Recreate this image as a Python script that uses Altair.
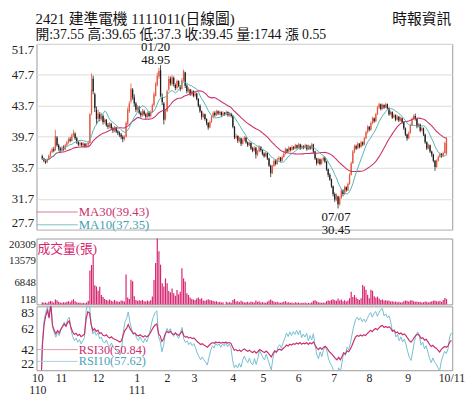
import altair as alt
import pandas as pd

# ---------------- data ----------------
opens = [37.2, 36.9, 36.6, 36.4, 36.8, 37.3, 37.7, 38.1, 38.0, 39.6, 38.6, 38.2, 37.9, 38.3,
         38.1, 38.6, 39.0, 39.4, 39.2, 39.9, 40.1, 39.5, 39.0, 38.7, 38.9, 38.6, 38.8, 38.5, 38.7, 38.9, 42.8, 47.2, 45.2, 43.2, 42.0, 42.6,
         42.0, 42.4, 41.6, 41.9, 41.2, 41.0, 41.4, 40.8, 40.5, 40.9, 40.4, 40.2, 40.0, 39.7, 39.4, 39.7, 41.4, 43.0, 44.3, 45.8, 44.8, 44.0, 43.2,
         43.5, 42.8, 42.5, 43.0, 42.6, 42.3, 42.8, 42.4, 42.9, 43.8, 45.0, 46.4, 47.5, 48.3, 44.8, 44.0, 42.0, 43.0,
         45.8, 47.2, 46.5, 47.3, 46.4, 46.0, 46.9, 46.2, 45.9, 47.0, 48.0, 46.3, 45.6, 45.8, 45.2, 45.6,
         45.0, 45.3, 44.6, 43.7, 43.0, 42.3, 42.6, 42.0, 41.5, 40.9, 41.6, 42.3, 42.8, 42.5, 43.0, 42.7, 42.9, 42.5, 42.8, 42.6, 42.9, 42.5, 42.7,
         42.4, 41.0, 39.6, 39.8, 39.2, 39.5, 38.8, 39.3, 39.6, 39.0, 38.6, 38.9, 38.2, 37.9, 38.3, 37.4, 37.8, 38.4,
         38.0, 37.5, 37.2, 37.6, 36.9, 36.0, 35.0, 35.9, 36.6, 36.2, 36.8, 37.0, 36.6, 37.1, 37.5, 38.1, 37.8, 38.3, 38.0, 38.4, 38.2,
         38.6, 38.3, 38.7, 38.2, 38.5, 38.3, 38.6, 38.1, 38.5, 38.2, 38.7, 37.8, 36.9, 36.3, 36.8, 36.2, 36.7, 37.0, 36.5, 35.5, 34.8,
         34.2, 33.3, 32.3, 31.6, 32.0, 31.0, 31.8, 32.8, 32.3, 33.2, 32.8, 33.6, 34.8, 36.3, 37.8, 38.5, 38.2, 38.8, 38.4, 39.0, 38.7,
         39.5, 40.3, 41.0, 40.6, 41.5, 42.1, 41.7, 42.6, 43.5, 43.9, 43.3, 43.8, 43.5, 43.9, 43.4, 42.6, 42.9, 42.2, 42.5, 41.9, 42.3, 41.8, 42.1,
         41.6, 40.8, 40.0, 39.5, 40.2, 41.2, 42.0, 42.4, 42.0, 41.0, 41.3, 40.5, 40.8, 40.0, 39.0, 38.2, 38.6, 37.8, 37.4, 36.6, 35.8,
         36.6, 37.1, 37.5, 37.2, 37.6, 37.55]

closes = [36.9, 36.6, 36.4, 36.8, 37.3, 37.7, 38.1, 37.9, 39.8, 38.6, 38.2, 37.9, 38.3, 38.1,
          38.6, 39.0, 39.4, 39.2, 39.9, 40.2, 39.5, 39.0, 38.7, 38.9, 38.6, 38.8, 38.5, 38.7, 38.9, 42.6, 45.8, 45.6, 43.4, 42.0, 42.7, 42.0,
          42.5, 41.6, 41.9, 41.2, 41.0, 41.4, 40.8, 40.5, 40.9, 40.4, 40.2, 40.0, 39.7, 39.4, 39.7, 41.5, 43.2, 44.0, 45.9, 44.8, 44.0, 43.2, 43.5,
          42.8, 42.5, 43.0, 42.6, 42.3, 42.8, 42.4, 42.9, 43.8, 45.2, 46.5, 47.6, 48.2, 45.0, 44.2, 41.9, 43.0, 45.6,
          47.2, 46.6, 47.4, 46.5, 46.0, 46.9, 46.3, 45.9, 47.0, 48.2, 46.3, 45.6, 45.9, 45.2, 45.6, 45.0,
          45.3, 44.6, 43.7, 43.0, 42.3, 42.6, 42.0, 41.5, 40.9, 41.6, 42.3, 42.8, 42.5, 43.0, 42.7, 42.9, 42.5, 42.8, 42.6, 42.9, 42.5, 42.7, 42.4,
          41.0, 39.6, 39.8, 39.2, 39.5, 38.8, 39.3, 39.6, 39.0, 38.6, 38.9, 38.2, 37.9, 38.3, 37.4, 37.8, 38.4, 38.0,
          37.5, 37.2, 37.6, 36.9, 36.0, 35.0, 35.9, 36.6, 36.2, 36.8, 37.0, 36.6, 37.1, 37.5, 38.1, 37.8, 38.3, 38.0, 38.4, 38.2, 38.6,
          38.3, 38.7, 38.2, 38.5, 38.3, 38.6, 38.1, 38.5, 38.2, 38.7, 37.8, 36.9, 36.3, 36.8, 36.2, 36.7, 37.0, 36.5, 35.5, 34.8, 34.2,
          33.3, 32.3, 31.6, 32.2, 31.0, 31.8, 32.8, 32.3, 33.2, 32.8, 33.6, 34.8, 36.3, 37.8, 38.5, 38.2, 38.8, 38.4, 39.0, 38.7, 39.5,
          40.3, 41.0, 40.6, 41.5, 42.1, 41.7, 42.6, 43.5, 43.9, 43.3, 43.8, 43.5, 43.9, 43.4, 42.6, 42.9, 42.2, 42.5, 41.9, 42.3, 41.8, 42.1, 41.6,
          40.8, 40.0, 39.5, 40.2, 41.2, 42.0, 42.4, 42.0, 41.0, 41.3, 40.5, 40.8, 40.0, 39.0, 38.2, 38.6, 37.8, 37.4, 36.6, 35.8, 36.6,
          37.1, 37.5, 37.2, 37.6, 38.9, 39.45]

highs = [37.4, 37.0, 36.8, 36.9, 37.4, 37.9, 38.3, 38.4, 40.6, 39.8, 38.8, 38.4, 38.5, 38.6,
         38.8, 39.2, 39.6, 39.7, 40.1, 40.6, 40.3, 39.7, 39.2, 39.1, 39.0, 39.0, 38.9, 38.9, 39.2, 42.8, 47.9, 47.6, 45.4, 43.6, 43.2, 42.9,
         42.8, 42.6, 42.1, 42.0, 41.5, 41.6, 41.5, 41.0, 41.1, 41.0, 40.6, 40.4, 40.2, 39.9, 39.9, 41.7, 43.5, 44.3, 46.6, 46.0, 45.2, 44.2, 43.8,
         43.7, 43.0, 43.3, 43.2, 42.8, 43.0, 43.0, 43.1, 44.0, 45.5, 46.8, 48.0, 48.6, 48.95, 45.3, 44.2, 43.3, 45.8,
         47.6, 47.5, 47.7, 47.5, 46.6, 47.1, 47.0, 46.4, 47.3, 48.4, 48.1, 46.5, 46.1, 45.9, 45.8, 45.7,
         45.5, 45.4, 44.7, 43.9, 43.1, 42.8, 42.7, 42.1, 41.6, 41.8, 42.5, 43.0, 43.0, 43.2, 43.1, 43.1, 43.0, 43.0, 42.9, 43.1, 43.0, 42.9, 42.8,
         42.5, 41.1, 40.1, 39.9, 39.7, 39.6, 39.5, 39.8, 39.7, 39.1, 39.1, 39.0, 38.4, 38.5, 38.4, 38.0, 38.6, 38.5,
         38.1, 37.7, 37.8, 37.7, 37.0, 36.1, 36.1, 36.8, 36.8, 37.0, 37.2, 37.1, 37.3, 37.7, 38.3, 38.2, 38.5, 38.4, 38.6, 38.5, 38.8,
         38.7, 38.9, 38.8, 38.7, 38.6, 38.8, 38.7, 38.7, 38.6, 38.9, 38.8, 37.9, 37.0, 37.0, 36.9, 36.9, 37.2, 37.1, 36.6, 35.6, 35.0,
         34.3, 33.4, 32.5, 32.4, 32.1, 32.0, 33.0, 32.9, 33.4, 33.3, 33.8, 35.0, 36.5, 38.0, 38.7, 38.7, 39.0, 38.9, 39.2, 39.1, 39.7,
         40.5, 41.2, 41.1, 41.7, 42.3, 42.2, 42.8, 43.7, 44.1, 44.0, 44.0, 43.9, 44.1, 44.0, 43.5, 43.1, 43.0, 42.7, 42.6, 42.5, 42.4, 42.3, 42.2,
         41.7, 40.9, 40.1, 40.4, 41.4, 42.2, 42.6, 42.7, 42.1, 41.5, 41.4, 41.0, 40.9, 40.1, 39.1, 38.8, 38.7, 37.9, 37.5, 36.7, 36.8,
         37.3, 37.7, 37.6, 37.8, 39.1, 39.65]

lows = [36.7, 36.4, 36.2, 36.3, 36.7, 37.1, 37.6, 37.7, 37.9, 38.4, 37.9, 37.6, 37.8, 37.9,
        38.0, 38.4, 38.8, 39.0, 39.1, 39.7, 39.3, 38.8, 38.5, 38.5, 38.4, 38.4, 38.3, 38.3, 38.5, 38.8, 42.5, 45.2, 42.9, 41.3, 41.6, 41.7,
        41.8, 41.3, 41.4, 41.0, 40.7, 40.8, 40.6, 40.2, 40.3, 40.2, 39.9, 39.7, 39.4, 39.0, 39.2, 39.6, 41.2, 42.8, 44.0, 44.5, 43.6, 42.9, 43.0,
        42.6, 42.2, 42.3, 42.4, 42.0, 42.1, 42.2, 42.2, 42.8, 43.6, 44.9, 46.2, 47.2, 44.8, 43.8, 41.3, 41.8, 42.9,
        45.6, 46.3, 46.3, 46.2, 45.7, 45.8, 46.1, 45.6, 45.8, 46.8, 46.0, 45.3, 45.4, 45.0, 45.0, 44.8,
        44.8, 44.4, 43.5, 42.8, 41.9, 42.1, 41.8, 41.2, 40.6, 40.8, 41.5, 42.1, 42.3, 42.4, 42.5, 42.5, 42.3, 42.4, 42.4, 42.5, 42.3, 42.3, 42.2,
        40.8, 39.4, 39.4, 38.9, 39.0, 38.5, 38.7, 39.1, 38.8, 38.4, 38.5, 38.0, 37.7, 37.8, 36.9, 37.2, 37.7, 37.8,
        37.3, 37.0, 37.1, 36.7, 35.8, 34.5, 34.9, 35.8, 36.0, 36.1, 36.6, 36.4, 36.5, 37.0, 37.4, 37.6, 37.7, 37.8, 37.9, 38.0, 38.1,
        38.1, 38.2, 38.0, 38.1, 38.1, 38.2, 37.9, 38.0, 38.0, 38.1, 37.6, 36.7, 36.0, 36.2, 36.0, 36.1, 36.5, 36.3, 35.3, 34.5, 34.0,
        33.1, 32.0, 31.3, 31.4, 30.45, 30.8, 31.7, 32.0, 32.2, 32.6, 32.7, 33.5, 34.7, 36.2, 37.6, 38.0, 38.1, 38.2, 38.3, 38.5, 38.6,
        39.4, 40.1, 40.4, 40.5, 41.3, 41.5, 41.6, 42.5, 43.3, 43.1, 43.2, 43.3, 43.4, 43.2, 42.4, 42.5, 42.0, 42.1, 41.7, 41.8, 41.6, 41.7, 41.4,
        40.6, 39.8, 39.2, 39.4, 40.1, 41.1, 41.9, 41.8, 40.8, 40.9, 40.3, 40.4, 39.8, 38.8, 38.0, 38.1, 37.6, 37.1, 36.4, 35.3, 35.7,
        36.5, 37.0, 37.0, 37.1, 37.5, 37.3]

volumes = [800, 600, 700, 500, 900, 1200, 1000, 700, 1600, 1400, 900, 700, 600, 800,
           700, 900, 1100, 800, 1300, 1700, 1100, 800, 600, 700, 500, 600, 500, 700, 1200, 10500, 12200, 15500, 6000, 5600, 4300, 5500,
           3000, 2400, 1800, 1500, 1300, 1600, 1200, 1000, 1500, 1100, 1000, 900, 1300, 1200, 1000, 9300, 2200, 1800, 7700, 7200, 2600, 1500, 1200,
           1400, 1200, 1500, 1100, 1000, 1300, 1100, 1400, 2500, 7600, 12800, 20309, 16400, 12300, 6600, 5600, 8100, 6600,
           4200, 3800, 5000, 3500, 2800, 4500, 3200, 4000, 11200, 8100, 7100, 3500, 3000, 2200, 1800, 1600,
           1500, 1900, 2200, 1800, 2000, 1300, 1200, 1400, 1700, 1500, 1300, 1200, 1000, 1100, 800, 900, 700, 800, 118, 900, 700, 800, 600,
           1500, 1800, 1000, 1100, 800, 1200, 900, 700, 800, 900, 600, 1000, 800, 700, 1300, 900, 1100, 700,
           800, 700, 600, 900, 1300, 1600, 1200, 1000, 800, 900, 700, 600, 800, 900, 1100, 700, 800, 600, 700, 500, 800,
           600, 700, 500, 600, 500, 700, 500, 600, 500, 800, 1200, 1400, 1100, 800, 700, 600, 700, 600, 1100, 1300, 1200,
           1500, 1700, 1400, 1200, 1900, 1300, 1600, 1100, 1400, 1000, 1300, 2000, 4000, 2400, 3000, 2200, 1800, 1500, 2000, 6100, 5600,
           4600, 3100, 2000, 4600, 4300, 2600, 2200, 2500, 1900, 1500, 1600, 1300, 1400, 1200, 1300, 1000, 1100, 900, 1000, 800, 900, 700, 800,
           1100, 1300, 1200, 1000, 1300, 1400, 1100, 900, 1000, 800, 900, 700, 800, 1000, 900, 700, 900, 1000, 1200, 1300, 1100,
           1000, 1200, 900, 1500, 2100, 1744]

month_ticks = [0, 14, 36, 59, 77, 93, 116, 134, 155, 176, 197, 220, 246]
month_labels = ["10|110", "11", "12", "1|111", "2", "3", "4", "5", "6", "7", "8", "9", "10/11"]

price_ticks = [27.7, 31.7, 35.7, 39.7, 43.7, 47.7, 51.7]
vol_ticks = [118, 6848, 13579, 20309]
rsi_ticks = [22, 42, 62, 83]

ann_idx = [72, 180]
ann_val = [48.95, 30.45]
ann_date = ["01/20", "07/07"]
ann_price = ["48.95", "30.45"]

title_line1 = "2421   建準電機 1111011(日線圖)"
title_line2 = "開:37.55 高:39.65 低:37.3 收:39.45 量:1744 漲 0.55"
source_txt = "時報資訊"
ma30_txt = "MA30(39.43)"
ma10_txt = "MA10(37.35)"
vol_txt = "成交量(張)"
rsi30_txt = "RSI30(50.84)"
rsi10_txt = "RSI10(57.62)"

# ---------------- styling ----------------
N = len(closes)
W = 423
FONT = "Liberation Serif, Noto Sans CJK TC"
UP = "#e4573f"
DOWN = "#1e1e1e"
MA30C = "#c8336e"
MA10C = "#55b3b3"
VOLC = "#d6246e"
RSI30C = "#c8306e"
RSI10C = "#74bfd2"

df = pd.DataFrame({"i": list(range(N)), "open": opens, "high": highs, "low": lows,
                   "close": closes, "vol": volumes})

# Wilder RSI derived from the closes
diff = df["close"].diff()
gain = diff.clip(lower=0)
loss = (-diff).clip(lower=0)
for n in (10, 30):
    ag = gain.ewm(alpha=1.0 / n, adjust=True).mean()
    al = loss.ewm(alpha=1.0 / n, adjust=True).mean()
    df[f"rsi{n}"] = 100 * ag / (ag + al)

xscale = alt.Scale(domain=[-0.5, N - 0.5], nice=False, zero=False)
xN = alt.X("i:Q", scale=xscale, axis=None)

pscale = alt.Scale(domain=[27.7, 51.7], nice=False, zero=False)
paxis = alt.Axis(values=price_ticks, format=".1f", grid=True, gridColor="#dcdcdc",
                 ticks=False, domain=False, labelFlush=True, title=None,
                 labelFontSize=13, labelPadding=3)


def yP(f):
    return alt.Y(f, scale=pscale, axis=paxis)


up = alt.condition("datum.close >= datum.open", alt.value(UP), alt.value(DOWN))
base = alt.Chart(df)

wick = base.mark_rule(strokeWidth=0.8).encode(x=xN, y=yP("low:Q"), y2="high:Q", color=up)
body = base.mark_bar(size=1.3).encode(x=xN, y=yP("open:Q"), y2="close:Q", color=up)

ma = base.transform_window(ma10="mean(close)", frame=[-9, 0], sort=[{"field": "i"}]) \
         .transform_window(ma30="mean(close)", frame=[-29, 0], sort=[{"field": "i"}])
ma30_line = ma.mark_line(color=MA30C, strokeWidth=1.1).encode(x=xN, y=yP("ma30:Q"))
ma10_line = ma.mark_line(color=MA10C, strokeWidth=1).encode(x=xN, y=yP("ma10:Q"))

ann_df = pd.DataFrame({"i": ann_idx, "v": ann_val, "d": ann_date, "p": ann_price})
hi_df = ann_df.iloc[[0]]
lo_df = ann_df.iloc[[1]]


def ann(d, field, baseline, dy, dx):
    return alt.Chart(d).mark_text(baseline=baseline, dy=dy, dx=dx, font=FONT, fontSize=13,
                                  color="#111").encode(x=xN, y=yP("v:Q"), text=f"{field}:N")


ann_layers = [
    ann(hi_df, "p", "bottom", 2, -5),
    ann(hi_df, "d", "bottom", -11, -5),
    ann(lo_df, "d", "top", 3, -2),
    ann(lo_df, "p", "top", 16, -2),
]


def one(txt):
    return alt.Chart(pd.DataFrame({"t": [txt]}))


def leg_rule(y, color):
    return one("r").mark_rule(color=color, strokeWidth=1).encode(
        x=alt.value(0), x2=alt.value(42), y=alt.value(y))


def label(txt, x, y, color, size=13, align="left"):
    return one(txt).mark_text(align=align, baseline="middle", font=FONT, fontSize=size,
                              color=color).encode(x=alt.value(x), y=alt.value(y), text="t:N")


price = alt.layer(
    wick, body, ma30_line, ma10_line, *ann_layers,
    leg_rule(171, "#d27a98"), label(ma30_txt, 43, 171, MA30C),
    leg_rule(184, "#7cc4c4"), label(ma10_txt, 43, 184, "#3e9fb0"),
    label(title_line1, -1, -25, "#111", 15),
    label(title_line2, -1, -9.5, "#111", 14),
    label(source_txt, 422, -25, "#111", 15, "right"),
).properties(width=W, height=189)

vscale = alt.Scale(domain=[118, 20309], nice=False, zero=False)
vaxis = alt.Axis(values=vol_ticks, format="d", grid=False, ticks=False, domain=False,
                 labelFlush=True, title=None, labelFontSize=11, labelPadding=1)
vbars = base.mark_bar(size=1.2, color=VOLC).encode(
    x=xN, y=alt.Y("vol:Q", scale=vscale, axis=vaxis), y2=alt.datum(118))
volume = alt.layer(vbars, label(vol_txt, 1, 11, VOLC, 13)).properties(width=W, height=67)

label_expr = ""
for t, l in zip(month_ticks, month_labels):
    if "|" in l:
        a, b = l.split("|")
        lab = f"['{a}','{b}']"
    else:
        lab = f"'{l}'"
    label_expr += f"datum.value == {t} ? {lab} : "
label_expr += "''"

xaxis = alt.Axis(values=month_ticks, labelExpr=label_expr, ticks=False, domain=False, grid=False,
                 labelFlush=False, labelFontSize=12, labelPadding=2, labelLineHeight=13,
                 title=None, labelOverlap=False)
xR = alt.X("i:Q", scale=xscale, axis=xaxis)
rscale = alt.Scale(domain=[22, 83], nice=False, zero=False)
raxis = alt.Axis(values=rsi_ticks, grid=False, ticks=False, domain=False, labelFlush=True,
                 title=None, labelFontSize=13, labelPadding=3)

rsi10_line = base.mark_line(color=RSI10C, strokeWidth=1, clip=True).encode(
    x=xR, y=alt.Y("rsi10:Q", scale=rscale, axis=raxis))
rsi30_line = base.mark_line(color=RSI30C, strokeWidth=1.2, clip=True).encode(
    x=xR, y=alt.Y("rsi30:Q", scale=rscale, axis=raxis))

rsi_panel = alt.layer(
    rsi10_line, rsi30_line,
    leg_rule(44, "#e09ab6"), label(rsi30_txt, 43, 44, RSI30C, 12.5),
    leg_rule(56, "#a6cfdc"), label(rsi10_txt, 43, 56, "#4aa3bd", 12.5),
).properties(width=W, height=65)

chart = alt.vconcat(price, volume, rsi_panel, spacing=0).properties(
    padding={"left": 0, "top": 0, "right": 0, "bottom": 16},
    background="white",
).configure_view(stroke="#9a9a9a", strokeWidth=1).configure_axis(
    labelFont=FONT, labelColor="#222"
).configure_text(font=FONT)

chart.save("out.html", embed_options={"renderer": "svg", "actions": False})
